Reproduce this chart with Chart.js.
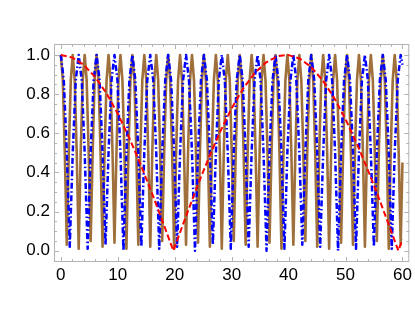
<!DOCTYPE html>
<html><head><meta charset="utf-8">
<script src="https://cdn.jsdelivr.net/npm/chart.js@4/dist/chart.umd.min.js"></script>
<style>html,body{margin:0;padding:0;background:#fff;}canvas{display:block;}</style>
</head><body>
<canvas id="c" width="415" height="327"></canvas>
<script>
// Red dashed curve (slow)
const redX = [0,2,4,6,8,10,12,14,16,18,19.76,22,24,26,28,30,32,34,36,38,39.52,40,42,44,46,48,50,52,54,56,58,59.28,60];
const redY = [1,0.987,0.950,0.888,0.805,0.700,0.578,0.441,0.294,0.139,0.0,0.177,0.331,0.476,0.609,0.727,0.827,0.906,0.961,0.993,1.0,0.999,0.981,0.937,0.870,0.781,0.672,0.546,0.407,0.258,0.101,0.0,0.057];

// Blue dot-dashed curve
const blueX = [
0,0.52,1.05,1.57,2.09,2.62, 3.14,3.67,4.19,4.71,5.24,5.76, 6.28,6.81,7.33,7.85,8.38,8.90,
9.42,9.95,10.47,11.00,11.52,12.04, 12.57,13.09,13.61,14.14,14.66,15.18, 15.71,16.23,16.76,17.28,17.80,18.33,
18.85,19.37,19.90,20.42,20.94,21.47, 21.99,22.51,23.04,23.56,24.09,24.61, 25.13,25.66,26.18,26.70,27.23,27.75,
28.27,28.80,29.32,29.85,30.37,30.89, 31.42,31.94,32.46,32.99,33.51,34.03, 34.56,35.08,35.60,36.13,36.65,37.18,
37.70,38.22,38.75,39.27,39.79,40.32, 40.84,41.36,41.89,42.41,42.94,43.46, 43.98,44.51,45.03,45.55,46.08,46.60,
47.12,47.65,48.17,48.69,49.22,49.74, 50.27,50.79,51.31,51.84,52.36,52.88, 53.41,53.93,54.45,54.98,55.50,56.03,
56.55,57.07,57.60,58.12,58.64,59.17, 59.69,60];
const blueY = [
1,.87,.5,.02,.5,.87, 1,.87,.5,.01,.5,.87, 1,.87,.5,.03,.5,.87,
1,.87,.5,.00,.5,.87, 1,.87,.5,.02,.5,.87, 1,.87,.5,.01,.5,.87,
1,.87,.5,.02,.5,.87, 1,.87,.5,.00,.5,.87, 1,.87,.5,.03,.5,.87,
1,.87,.5,.01,.5,.87, 1,.87,.5,.02,.5,.87, 1,.87,.5,.00,.5,.87,
1,.87,.5,.01,.5,.87, 1,.87,.5,.03,.5,.87, 1,.87,.5,.02,.5,.87,
1,.87,.5,.00,.5,.87, 1,.87,.5,.01,.5,.87, 1,.87,.5,.02,.5,.87,
1,.87,.5,.01,.5,.87, 1,.95];

// Brown solid curve (fast)
const brownX = [
0,0.35,0.70,1.05,1.40,1.75,2.09,2.44,2.79,
3.14,3.49,3.84,4.19,4.54,4.89,5.24,5.59,5.93,
6.28,6.63,6.98,7.33,7.68,8.03,8.38,8.73,9.08,
9.42,9.77,10.12,10.47,10.82,11.17,11.52,11.87,12.22,
12.57,12.92,13.26,13.61,13.96,14.31,14.66,15.01,15.36,
15.71,16.06,16.41,16.76,17.10,17.45,17.80,18.15,18.50,
18.85,19.20,19.55,19.90,20.25,20.59,20.94,21.29,21.64,
21.99,22.34,22.69,23.04,23.39,23.74,24.09,24.43,24.78,
25.13,25.48,25.83,26.18,26.53,26.88,27.23,27.58,27.93,
28.27,28.62,28.97,29.32,29.67,30.02,30.37,30.72,31.07,
31.42,31.76,32.11,32.46,32.81,33.16,33.51,33.86,34.21,
34.56,34.91,35.26,35.60,35.95,36.30,36.65,37.00,37.35,
37.70,38.05,38.40,38.75,39.10,39.44,39.79,40.14,40.49,
40.84,41.19,41.54,41.89,42.24,42.59,42.94,43.28,43.63,
43.98,44.33,44.68,45.03,45.38,45.73,46.08,46.43,46.78,
47.12,47.47,47.82,48.17,48.52,48.87,49.22,49.57,49.92,
50.27,50.61,50.96,51.31,51.66,52.01,52.36,52.71,53.06,
53.41,53.76,54.11,54.45,54.80,55.15,55.50,55.85,56.20,
56.55,56.90,57.25,57.60,57.94,58.29,58.64,58.99,59.34,
59.69,60];
const brownY = [
1,.87,.5,.03,.5,.87, 1,.87,.5,.01,.5,.87, 1,.87,.5,.05,.5,.87, 1,.87,.5,.02,.5,.87,
1,.87,.5,.04,.5,.87, 1,.87,.5,.01,.5,.87, 1,.87,.5,.03,.5,.87, 1,.87,.5,.02,.5,.87,
1,.87,.5,.05,.5,.87, 1,.87,.5,.01,.5,.87, 1,.87,.5,.03,.5,.87, 1,.87,.5,.04,.5,.87,
1,.87,.5,.02,.5,.87, 1,.87,.5,.01,.5,.87, 1,.87,.5,.05,.5,.87, 1,.87,.5,.03,.5,.87,
1,.87,.5,.02,.5,.87, 1,.87,.5,.04,.5,.87, 1,.87,.5,.01,.5,.87, 1,.87,.5,.03,.5,.87,
1,.87,.5,.05,.5,.87, 1,.87,.5,.02,.5,.87, 1,.87,.5,.01,.5,.87, 1,.87,.5,.04,.5,.87,
1,.87,.5,.03,.5,.87, 1,.87,.5,.02,.5,.87, 1,.87,.5,.05,.5,.87, 1,.87,.5,.01,.5,.87,
1,.87,.5,.03, .45];

// Axis ticks
const xTickValues = [0,10,20,30,40,50,60];
const xMinorTicks = [2,4,6,8,12,14,16,18,22,24,26,28,32,34,36,38,42,44,46,48,52,54,56,58];
const yTickValues = [0,0.2,0.4,0.6,0.8,1.0];
const yMinorTicks = [0.05,0.1,0.15,0.25,0.3,0.35,0.45,0.5,0.55,0.65,0.7,0.75,0.85,0.9,0.95];

const toPts = (xs, ys) => xs.map((x, i) => ({x: x, y: ys[i]}));

const framePlugin = {
  id: 'frame',
  afterDraw(chart) {
    const {ctx, chartArea: a, scales} = chart;
    const xs = scales.x, ys = scales.y;
    ctx.save();
    ctx.strokeStyle = '#b3b3b3';
    ctx.lineWidth = 1;
    ctx.strokeRect(a.left + 0.5, a.top + 0.5, a.right - a.left - 1, a.bottom - a.top - 1);
    ctx.beginPath();
    const vt = (v, len) => {
      const p = Math.round(xs.getPixelForValue(v)) + 0.5;
      ctx.moveTo(p, a.bottom); ctx.lineTo(p, a.bottom - len);
      ctx.moveTo(p, a.top); ctx.lineTo(p, a.top + len);
    };
    const ht = (v, len) => {
      const p = Math.round(ys.getPixelForValue(v)) + 0.5;
      ctx.moveTo(a.left, p); ctx.lineTo(a.left + len, p);
      ctx.moveTo(a.right, p); ctx.lineTo(a.right - len, p);
    };
    xTickValues.forEach(v => vt(v, 5));
    xMinorTicks.forEach(v => vt(v, 3));
    yTickValues.forEach(v => ht(v, 5));
    yMinorTicks.forEach(v => ht(v, 3));
    ctx.stroke();
    ctx.restore();
  }
};

const tickFont = {family: "'Liberation Sans', Arial, sans-serif", size: 17};

new Chart(document.getElementById('c'), {
  type: 'scatter',
  data: {
    datasets: [
      {data: toPts(redX, redY), showLine: true, borderColor: '#ff0000', borderWidth: 2,
       borderDash: [6, 3], pointRadius: 0, tension: 0},
      {data: toPts(blueX, blueY), showLine: true, borderColor: '#0000ff', borderWidth: 2.5,
       borderDash: [6, 2.5, 1.5, 2.5], pointRadius: 0, tension: 0, borderJoinStyle: 'round'},
      {data: toPts(brownX, brownY), showLine: true, borderColor: '#a0703c', borderWidth: 2.6,
       pointRadius: 0, tension: 0, borderJoinStyle: 'round'}
    ]
  },
  options: {
    responsive: false,
    animation: false,
    devicePixelRatio: 1,
    layout: {padding: {top: 44, right: 5, left: 0, bottom: 0}},
    plugins: {legend: {display: false}, tooltip: {enabled: false}},
    scales: {
      x: {
        type: 'linear', min: -1.2, max: 61.2,
        afterBuildTicks: s => { s.ticks = xTickValues.map(v => ({value: v})); },
        afterFit: s => { s.height = 65; },
        grid: {display: false, drawTicks: false},
        border: {display: false},
        ticks: {font: tickFont, color: '#000', padding: 3, maxRotation: 0, autoSkip: false,
                callback: v => String(v)}
      },
      y: {
        type: 'linear', min: -0.058, max: 1.056,
        afterBuildTicks: s => { s.ticks = yTickValues.map(v => ({value: v})); },
        afterFit: s => { s.width = 54; },
        grid: {display: false, drawTicks: false},
        border: {display: false},
        ticks: {font: tickFont, color: '#000', padding: 4, autoSkip: false,
                callback: v => Number(v).toFixed(1)}
      }
    }
  },
  plugins: [framePlugin]
});
</script>
</body></html>
